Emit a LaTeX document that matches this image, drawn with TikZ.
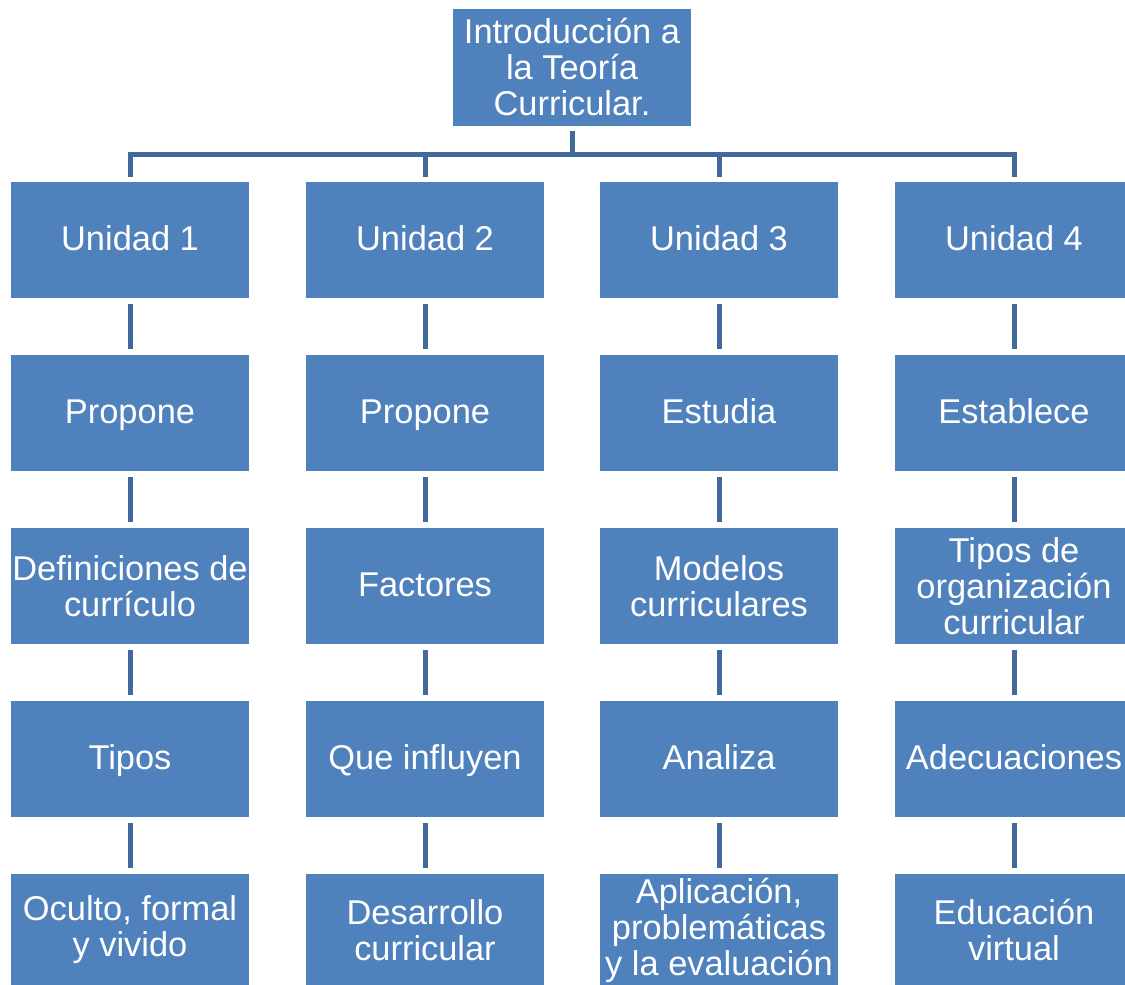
\documentclass[tikz,border=0pt]{standalone}
\usepackage{fontspec}
\setmainfont{Liberation Sans}
\definecolor{boxblue}{HTML}{4F81BD}
\definecolor{lineblue}{HTML}{41699B}
\begin{document}
\begin{tikzpicture}[x=1pt,y=-1pt,
  box/.style={rectangle, fill=boxblue, draw=none, text=white, inner sep=0pt,
    minimum width=238pt, minimum height=116pt, align=center,
    font=\fontsize{34.4}{36}\selectfont},
  one/.style={box, text height=21.5pt, text depth=0pt},
  last/.style={box, minimum height=112pt},
  conn/.style={draw=lineblue, line width=5pt}]
\useasboundingbox (0,0) rectangle (1125,985);
\node[box, minimum height=117pt] (t) at (572,67.5) {Introducción a\\la Teoría\\Curricular.};
\node[one] (u1) at (130,240) {Unidad 1};
\node[one] (u2) at (425,240) {Unidad 2};
\node[one] (u3) at (719,240) {Unidad 3};
\node[one] (u4) at (1014,240) {Unidad 4};
\node[one] (a1) at (130,413) {Propone};
\node[one] (a2) at (425,413) {Propone};
\node[one] (a3) at (719,413) {Estudia};
\node[one] (a4) at (1014,413) {Establece};
\node[box] (b1) at (130,586) {Definiciones de\\currículo};
\node[one] (b2) at (425,586) {Factores};
\node[box] (b3) at (719,586) {Modelos\\curriculares};
\node[box] (b4) at (1014,586) {Tipos de\\organización\\curricular};
\node[one] (c1) at (130,759) {Tipos};
\node[one] (c2) at (425,759) {Que influyen};
\node[one] (c3) at (719,759) {Analiza};
\node[one] (c4) at (1014,759) {Adecuaciones};
\node[last] (d1) at (130,930) {Oculto, formal\\y vivido};
\node[last] (d2) at (425,930) {Desarrollo\\curricular};
\node[last] (d3) at (719,930) {Aplicación,\\problemáticas\\y la evaluación};
\node[last] (d4) at (1014,930) {Educación\\virtual};
% connectors from top
\coordinate (bus) at (572,154);
\draw[conn] ([yshift=-5pt]t.south) -- (t.south |- bus);
\draw[conn] ([yshift=5pt]u1.north) |- (bus) -| ([yshift=5pt]u4.north);
\draw[conn] (u2.north |- bus) -- ([yshift=5pt]u2.north);
\draw[conn] (u3.north |- bus) -- ([yshift=5pt]u3.north);
% vertical chains
\foreach \c in {1,2,3,4}{
  \draw[conn] ([yshift=-6pt]u\c.south) -- ([yshift=6pt]a\c.north);
  \draw[conn] ([yshift=-6pt]a\c.south) -- ([yshift=6pt]b\c.north);
  \draw[conn] ([yshift=-6pt]b\c.south) -- ([yshift=6pt]c\c.north);
  \draw[conn] ([yshift=-6pt]c\c.south) -- ([yshift=6pt]d\c.north);
}
\end{tikzpicture}
\end{document}
